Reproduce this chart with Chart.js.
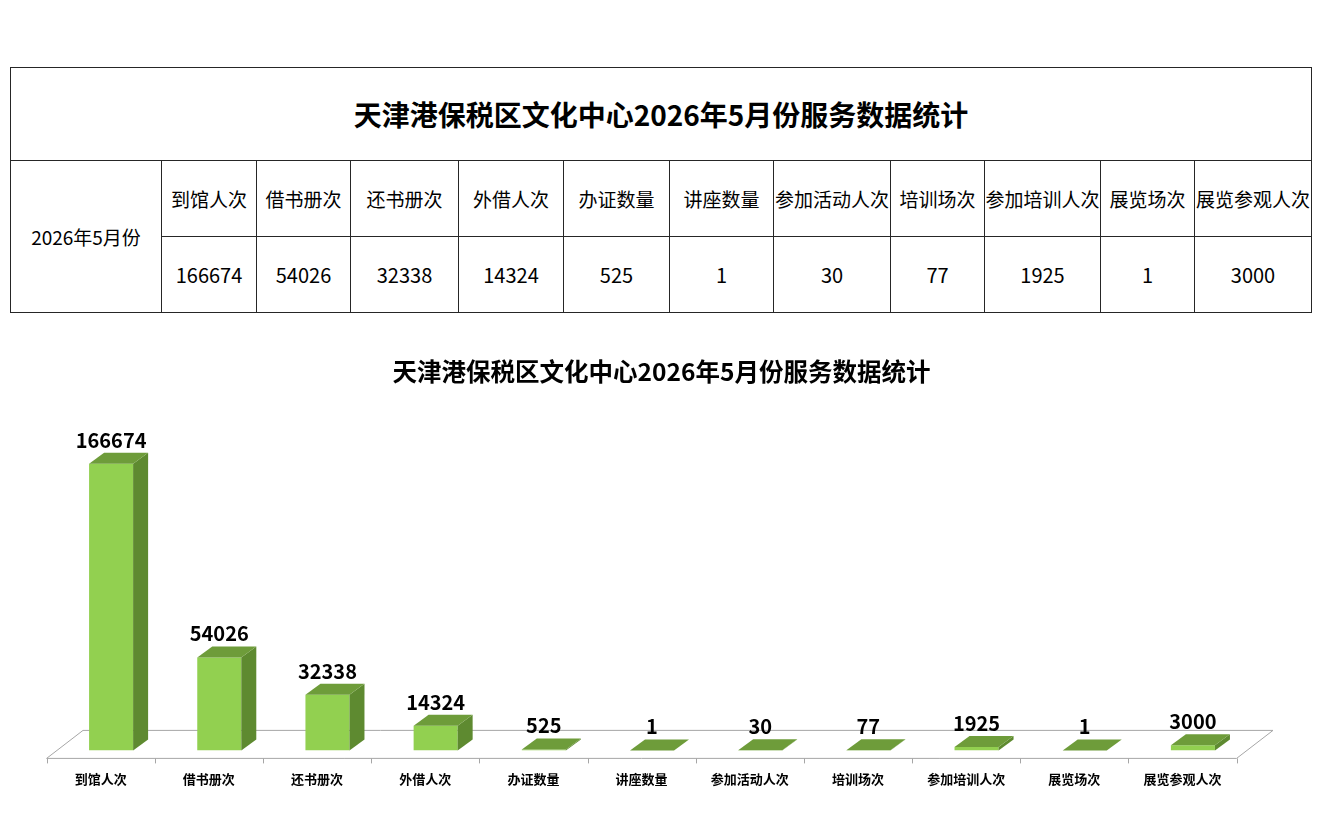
<!DOCTYPE html>
<html>
<head>
<meta charset="utf-8">
<title>天津港保税区文化中心2026年5月份服务数据统计</title>
<script src="https://cdn.jsdelivr.net/npm/chart.js"></script>
<style>
    body { margin: 0; background: #fff; font-family: "Noto Sans CJK SC", sans-serif; width: 1323px; height: 832px; overflow: hidden; position: relative; }
    #tabela { position: absolute; left: 10px; top: 67px; border-collapse: collapse; table-layout: fixed; width: 1302px; }
    #tabela td { border: 1px solid #262626; text-align: center; vertical-align: middle; padding: 0; font-size: 19px; color: #000; white-space: nowrap; overflow: hidden; }
    #tabela td.titulo { font-size: 28px; font-weight: bold; height: 92px; }
    #tabela tr.linha td { height: 75px; }
    #tabela tr.valor td { font-size: 20px; }
    #caixa { position: absolute; left: 0; top: 330px; width: 1323px; height: 502px; }
</style>
</head>
<body>
    <table id="tabela"></table>
    <div id="caixa"><canvas id="meuGrafico"></canvas></div>
    <script>
        const titulo = '天津港保税区文化中心2026年5月份服务数据统计';
        const mes = '2026年5月份';
        const categorias = ['到馆人次', '借书册次', '还书册次', '外借人次', '办证数量', '讲座数量', '参加活动人次', '培训场次', '参加培训人次', '展览场次', '展览参观人次'];
        const valores = [166674, 54026, 32338, 14324, 525, 1, 30, 77, 1925, 1, 3000];
        const larguras = [151, 95, 94, 108, 105, 106, 104, 117, 94, 116, 94, 117];

        // tabela
        const tabela = document.getElementById('tabela');
        let html = '<colgroup>' + larguras.map(w => '<col style="width:' + w + 'px">').join('') + '</colgroup>';
        html += '<tr><td class="titulo" colspan="' + (categorias.length + 1) + '">' + titulo + '</td></tr>';
        html += '<tr class="linha"><td rowspan="2">' + mes + '</td>' + categorias.map(c => '<td>' + c + '</td>').join('') + '</tr>';
        html += '<tr class="linha valor">' + valores.map(v => '<td>' + v + '</td>').join('') + '</tr>';
        tabela.innerHTML = html;

        // efeito 3D
        const PROF_X = 15, PROF_Y = 11;     // profundidade da barra
        const CHAO_FRENTE = 8, CHAO_FUNDO = 20, DESLOC = 10.4, FUNDO_X = 26;

        const bloco3d = {
            id: 'bloco3d',
            beforeDatasetsDraw(chart) {
                const { ctx, chartArea: a } = chart;
                const xs = chart.scales.x;
                const passo = xs.getPixelForTick(1) - xs.getPixelForTick(0);
                const yf = a.bottom + CHAO_FRENTE, yb = a.bottom - CHAO_FUNDO;
                const xl = a.left - DESLOC, xr = a.right - DESLOC;
                ctx.save();
                ctx.strokeStyle = '#a6a6a6';
                ctx.lineWidth = 1;
                ctx.beginPath();
                ctx.moveTo(xl, yf); ctx.lineTo(xr, yf);
                ctx.lineTo(a.right + FUNDO_X, yb); ctx.lineTo(a.left + FUNDO_X, yb);
                ctx.lineTo(xl, yf);
                for (let i = 0; i <= categorias.length; i++) {
                    const x = Math.round(xl + i * passo) + 0.5;
                    ctx.moveTo(x, yf); ctx.lineTo(x, yf + 5);
                }
                ctx.stroke();
                ctx.restore();
            },
            afterDatasetsDraw(chart) {
                const { ctx } = chart;
                const meta = chart.getDatasetMeta(0);
                ctx.save();
                meta.data.forEach((bar, i) => {
                    const w = bar.width, x0 = bar.x - w / 2, x1 = bar.x + w / 2;
                    const topo = bar.y, base = bar.base;
                    ctx.fillStyle = '#5e8a30';
                    ctx.beginPath();
                    ctx.moveTo(x1, topo); ctx.lineTo(x1 + PROF_X, topo - PROF_Y);
                    ctx.lineTo(x1 + PROF_X, base - PROF_Y); ctx.lineTo(x1, base);
                    ctx.closePath(); ctx.fill();
                    ctx.fillStyle = '#6e9c3a';
                    ctx.beginPath();
                    ctx.moveTo(x0, topo); ctx.lineTo(x1, topo);
                    ctx.lineTo(x1 + PROF_X, topo - PROF_Y); ctx.lineTo(x0 + PROF_X, topo - PROF_Y);
                    ctx.closePath(); ctx.fill();
                    ctx.fillStyle = '#000';
                    ctx.font = 'bold 20px "Noto Sans CJK SC"';
                    ctx.textAlign = 'center';
                    ctx.textBaseline = 'alphabetic';
                    ctx.fillText(String(valores[i]), bar.x, topo - PROF_Y - 5);
                });
                ctx.restore();
            }
        };

        // eixos invisíveis só para reservar margem (título fica centrado na página)
        const margem = (w) => ({
            display: true,
            ticks: { display: false },
            grid: { display: false, drawTicks: false },
            border: { display: false },
            afterFit(s) { s.width = w; }
        });

        const ctx = document.getElementById('meuGrafico').getContext('2d');
        new Chart(ctx, {
            type: 'bar',
            data: {
                labels: categorias,
                datasets: [{
                    data: valores,
                    backgroundColor: '#92d050',
                    borderWidth: 0,
                    barPercentage: 0.407,
                    categoryPercentage: 1
                }]
            },
            options: {
                responsive: true,
                maintainAspectRatio: false,
                animation: false,
                layout: { padding: { left: 0, right: 0, top: 0, bottom: 24 } },
                plugins: {
                    legend: { display: false },
                    tooltip: { enabled: false },
                    title: {
                        display: true,
                        text: titulo,
                        color: '#000',
                        font: { family: '"Noto Sans CJK SC"', size: 24.5, weight: 'bold' },
                        padding: { top: 27, bottom: 54.4 }
                    }
                },
                scales: {
                    x: {
                        grid: { display: false, drawTicks: false },
                        border: { display: false },
                        ticks: {
                            color: '#000',
                            font: { family: '"Noto Sans CJK SC"', size: 13, weight: 'bold' },
                            padding: 21,
                            labelOffset: -DESLOC,
                            autoSkip: false,
                            maxRotation: 0
                        }
                    },
                    y: Object.assign(margem(57), { min: 0, max: 180000 }),
                    direita: Object.assign(margem(76), { position: 'right' })
                }
            },
            plugins: [bloco3d]
        });
    </script>
</body>
</html>
